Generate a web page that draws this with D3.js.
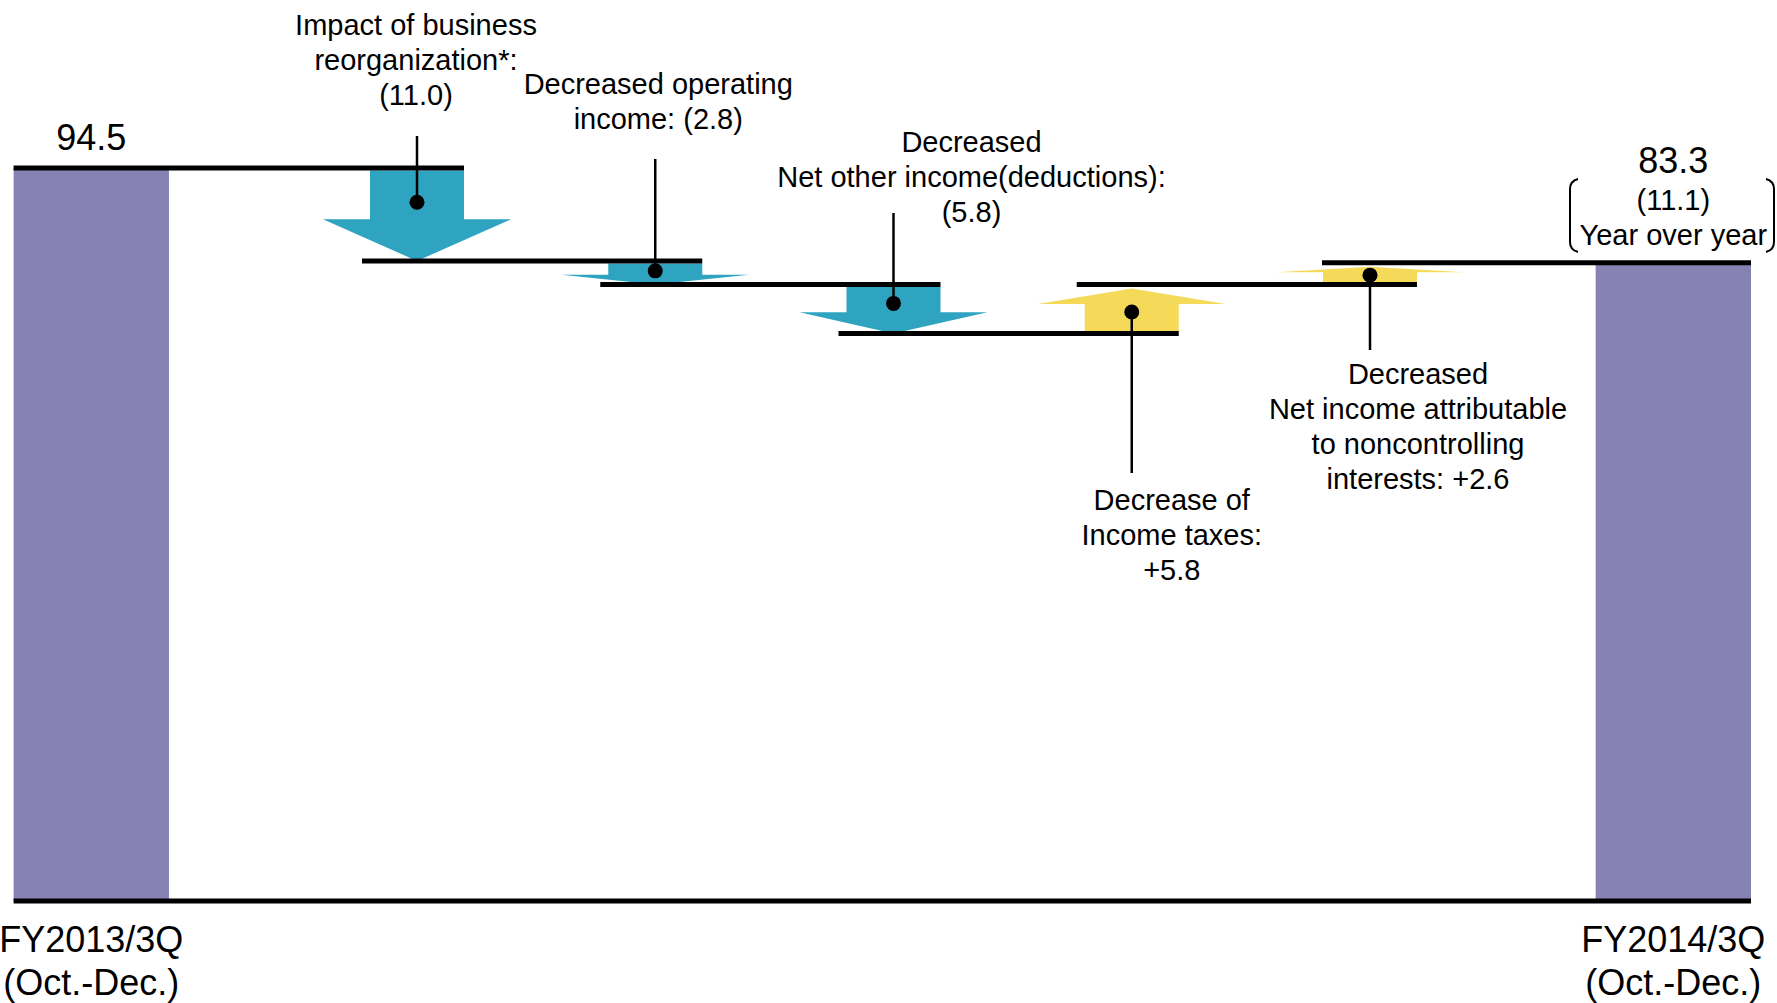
<!DOCTYPE html>
<html>
<head>
<meta charset="utf-8">
<script src="https://cdn.jsdelivr.net/npm/d3@7"></script>
<style>
  body { margin: 0; background: #fff; }
  text { font-family: "Liberation Sans", Arial, sans-serif; fill: #000; }
</style>
</head>
<body>
<div id="chart"></div>
<script>
const width = 1777;
const height = 1003;

// data
const totalCats = ["FY2013/3Q", "FY2014/3Q"];
const totalSub = ["(Oct.-Dec.)", "(Oct.-Dec.)"];
const totalValues = [94.5, 83.3];
const yoyText = ["(11.1)", "Year over year"];

const stepNames = ["reorg", "opIncome", "otherIncome", "incomeTaxes", "noncontrolling"];
const stepValues = [-11.0, -2.8, -5.8, 5.8, 2.6];
const stepLabels = [
  ["Impact of business", "reorganization*:", "(11.0)"],
  ["Decreased operating", "income: (2.8)"],
  ["Decreased", "Net other income(deductions):", "(5.8)"],
  ["Decrease of", "Income taxes:", "+5.8"],
  ["Decreased", "Net income attributable", "to noncontrolling", "interests: +2.6"]
];

// label placement for each step callout
const calloutLayout = [
  { dx: -1, lineEnd: 136, textY: 35 },
  { dx: 3, lineEnd: 159, textY: 94 },
  { dx: 78, lineEnd: 213, textY: 152 },
  { dx: 40, lineEnd: 473, textY: 510 },
  { dx: 48, lineEnd: 350, textY: 384 }
];

const colors = { down: "#2ea4c1", up: "#f5da5a", bar: "#8682b4" };
const lineH = 35;

const svg = d3.select("#chart").append("svg")
  .attr("width", width)
  .attr("height", height);

const y = d3.scaleLinear().domain([7.75, 94.5]).range([901, 168]);
const xBar = d3.scaleBand().domain(totalCats).range([13.6, 1751]).paddingInner(0.9018);
const xStep = d3.scalePoint().domain(stepNames).range([417, 1370]);

// running levels
const levels = [totalValues[0]];
stepValues.forEach(v => levels.push(+(levels[levels.length - 1] + v).toFixed(1)));

const steps = stepNames.map((name, i) => ({
  name, value: stepValues[i], from: levels[i], to: levels[i + 1],
  label: stepLabels[i], layout: calloutLayout[i]
}));

// total bars
svg.append("g").selectAll("rect")
  .data(totalCats)
  .join("rect")
  .attr("x", d => xBar(d))
  .attr("width", xBar.bandwidth())
  .attr("y", (d, i) => y(totalValues[i]))
  .attr("height", (d, i) => y.range()[0] - y(totalValues[i]))
  .attr("fill", colors.bar);

// level lines
const shaftW = 94, headW = 188;
const levelLines = [];
levelLines.push({ x1: xBar(totalCats[0]), x2: xStep(stepNames[0]) + shaftW / 2, v: levels[0] });
for (let i = 0; i < steps.length - 1; i++) {
  levelLines.push({ x1: xStep(stepNames[i]) - 55, x2: xStep(stepNames[i + 1]) + shaftW / 2, v: levels[i + 1] });
}
levelLines.push({ x1: xStep(stepNames[steps.length - 1]) - 48, x2: xBar(totalCats[1]) + xBar.bandwidth(), v: levels[levels.length - 1] });

// arrows
function arrowGeom(d) {
  const cx = xStep(d.name);
  if (d.value < 0) {
    const top = y(d.from) + 2.5;
    const tip = y(d.to);
    const base = tip - 0.46 * (tip - top);
    return { cx, top, tip, base, dot: top + 0.65 * (base - top), down: true };
  }
  const bottom = y(d.from) - 2.5;
  const tip = y(d.to) + 4;
  const base = tip + 0.36 * (bottom - tip);
  return { cx, bottom, tip, base, dot: base + 0.3 * (bottom - base), down: false };
}

svg.append("g").selectAll("path")
  .data(steps)
  .join("path")
  .attr("fill", d => d.value < 0 ? colors.down : colors.up)
  .attr("d", d => {
    const g = arrowGeom(d);
    const start = g.down ? g.top : g.bottom;
    const p = d3.path();
    p.moveTo(g.cx - shaftW / 2, start);
    p.lineTo(g.cx + shaftW / 2, start);
    p.lineTo(g.cx + shaftW / 2, g.base);
    p.lineTo(g.cx + headW / 2, g.base);
    p.lineTo(g.cx, g.tip);
    p.lineTo(g.cx - headW / 2, g.base);
    p.lineTo(g.cx - shaftW / 2, g.base);
    p.closePath();
    return p.toString();
  });

svg.append("g").selectAll("line")
  .data(levelLines)
  .join("line")
  .attr("x1", d => d.x1)
  .attr("x2", d => d.x2)
  .attr("y1", d => y(d.v))
  .attr("y2", d => y(d.v))
  .attr("stroke", "#000")
  .attr("stroke-width", 5);

// baseline
svg.append("line")
  .attr("x1", xBar.range()[0])
  .attr("x2", xBar.range()[1])
  .attr("y1", y.range()[0])
  .attr("y2", y.range()[0])
  .attr("stroke", "#000")
  .attr("stroke-width", 5);

// callouts
const callouts = svg.append("g").selectAll("g")
  .data(steps)
  .join("g");

callouts.append("line")
  .attr("x1", d => xStep(d.name))
  .attr("x2", d => xStep(d.name))
  .attr("y1", d => arrowGeom(d).dot)
  .attr("y2", d => d.layout.lineEnd)
  .attr("stroke", "#000")
  .attr("stroke-width", 2.5);

callouts.append("circle")
  .attr("cx", d => xStep(d.name))
  .attr("cy", d => arrowGeom(d).dot)
  .attr("r", 7.5)
  .attr("fill", "#000");

callouts.append("text")
  .attr("text-anchor", "middle")
  .style("font-size", "29px")
  .selectAll("tspan")
  .data(d => d.label.map((t, i) => ({ t, i, d })))
  .join("tspan")
  .attr("x", o => xStep(o.d.name) + o.d.layout.dx)
  .attr("y", o => o.d.layout.textY + o.i * lineH)
  .text(o => o.t);

// total value labels
const barCenter = c => xBar(c) + xBar.bandwidth() / 2;
svg.append("text")
  .attr("x", barCenter(totalCats[0]))
  .attr("y", 150)
  .attr("text-anchor", "middle")
  .style("font-size", "36px")
  .text(totalValues[0].toFixed(1));

svg.append("text")
  .attr("x", barCenter(totalCats[1]))
  .attr("y", 173)
  .attr("text-anchor", "middle")
  .style("font-size", "36px")
  .text(totalValues[1].toFixed(1));

svg.append("g").selectAll("text")
  .data(yoyText)
  .join("text")
  .attr("x", barCenter(totalCats[1]))
  .attr("y", (d, i) => 210 + i * lineH)
  .attr("text-anchor", "middle")
  .style("font-size", "29px")
  .text(d => d);

// brackets round the year over year note
const bTop = 179, bBot = 252, bL = 1570, bR = 1774;
svg.append("path")
  .attr("fill", "none")
  .attr("stroke", "#000")
  .attr("stroke-width", 2)
  .attr("d", `M${bL + 8},${bTop} Q${bL},${bTop + 2} ${bL},${bTop + 10} L${bL},${bBot - 10} Q${bL},${bBot - 2} ${bL + 8},${bBot}` +
    ` M${bR - 8},${bTop} Q${bR},${bTop + 2} ${bR},${bTop + 10} L${bR},${bBot - 10} Q${bR},${bBot - 2} ${bR - 8},${bBot}`);

// category labels
const catLabels = svg.append("g").selectAll("text")
  .data(totalCats)
  .join("text")
  .attr("text-anchor", "middle")
  .style("font-size", "36px");

catLabels.append("tspan")
  .attr("x", d => barCenter(d))
  .attr("y", 952)
  .text(d => d);

catLabels.append("tspan")
  .attr("x", d => barCenter(d))
  .attr("y", 995)
  .text((d, i) => totalSub[i]);
</script>
</body>
</html>
